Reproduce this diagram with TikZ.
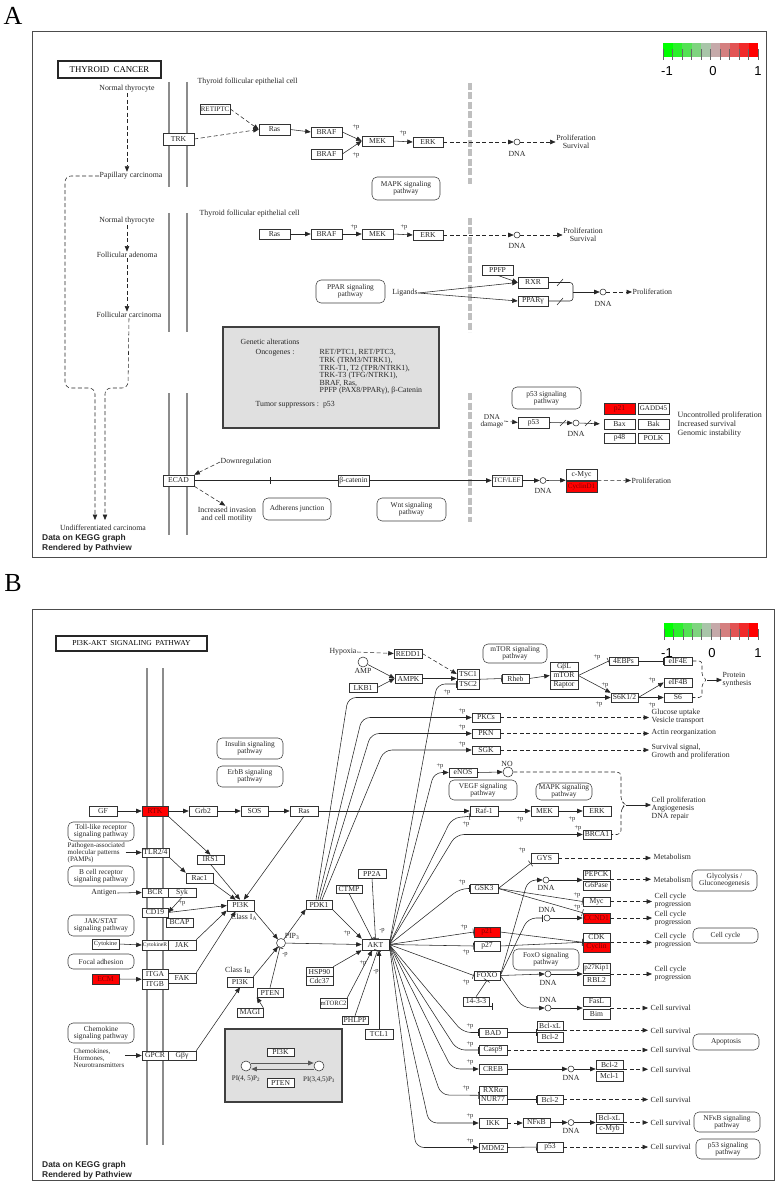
\documentclass[tikz,border=0pt]{standalone}
\usepackage{fontspec}
\setmainfont{Liberation Serif}
\setsansfont{Liberation Sans}
\usetikzlibrary{arrows.meta}
\definecolor{lg0}{RGB}{0,255,0}
\definecolor{lg1}{RGB}{42,241,42}
\definecolor{lg2}{RGB}{84,226,84}
\definecolor{lg3}{RGB}{127,212,127}
\definecolor{lg4}{RGB}{169,197,169}
\definecolor{lg5}{RGB}{197,169,169}
\definecolor{lg6}{RGB}{212,127,127}
\definecolor{lg7}{RGB}{226,84,84}
\definecolor{lg8}{RGB}{241,42,42}
\definecolor{lg9}{RGB}{255,0,0}
\definecolor{kred}{RGB}{255,0,0}
\definecolor{genfill}{RGB}{224,224,224}
\newcounter{lbl}
\newcommand\bx[7][]{\node[kbox,#1,minimum width={(#5-#3)*1pt},minimum height={(#6-#4)*1pt}] (#2) at ({(#3+#5)/2},{(#4+#6)/2}) {#7};}
\newcommand\pb[6]{\node[pbox,minimum width={(#4-#2)*1pt},minimum height={(#5-#3)*1pt}] (#1) at ({(#2+#4)/2},{(#3+#5)/2}) {#6};}
\newcommand\pl[3]{\stepcounter{lbl}\node[plab] (pl\arabic{lbl}) at (#1,#2) {#3};}
\begin{document}
\begin{tikzpicture}[x=1pt,y=-1pt,
  txt/.style={font=\fontsize{7.8}{8}\selectfont, text=black!85, inner sep=0.5pt, align=center},
  kbox/.style={draw=black!80, line width=0.55pt, fill=white, inner sep=0pt, font=\fontsize{7.6}{7.6}\selectfont, text=black!85},
  sm/.style={font=\fontsize{7}{7}\selectfont},
  redbox/.style={fill=kred, text=red!50!black},
  pbox/.style={draw=black!75, line width=0.55pt, rounded corners=5pt, fill=white, inner sep=0pt, align=center, font=\fontsize{7.4}{7.4}\selectfont, text=black!85},
  plab/.style={font=\fontsize{6.5}{6.5}\selectfont, text=black!85, inner sep=0pt},
  dnac/.style={circle, draw=black!80, line width=0.55pt, fill=white, inner sep=0pt, minimum size=6pt},
  con/.style={draw=black!85, line width=0.55pt},
  arr/.style={con, -{Triangle[length=5.5pt,width=4.5pt]}},
  inh/.style={con, -{Bar[width=7pt]}},
  dsh/.style={dash pattern=on 4pt off 2.5pt},
  memb/.style={draw=black!45, line width=2.7pt},
  gdash/.style={draw=black!25, line width=3.5pt, dash pattern=on 7pt off 2.5pt},
  frame/.style={draw=black!70, line width=0.8pt},
  legl/.style={font=\sffamily\fontsize{13}{13}\selectfont, inner sep=0pt},
  kegg/.style={font=\sffamily\bfseries\fontsize{8.4}{10}\selectfont, anchor=north west, align=left, inner sep=0pt, text=black!85},
]
\useasboundingbox (0,0) rectangle (776,1182);
% ================= PANEL A =================
\node[font=\fontsize{26}{26}\selectfont, inner sep=0] (labA) at (13,16) {A};
\draw[frame] (32,31) rectangle (766,557);
\foreach \c [count=\i from 0] in {lg0,lg1,lg2,lg3,lg4,lg5,lg6,lg7,lg8,lg9} \fill[\c] ({663+9.5*\i},43) rectangle ++(9.5,14);
\foreach \i in {0,...,10} \draw[black!60, line width=0.5pt] ({663+9.5*\i},49) -- ({663+9.5*\i},60);
\node[legl] (lA1) at (667,71) {-1};
\node[legl] (lA2) at (713,71) {0};
\node[legl] (lA3) at (758,71) {1};
\foreach \ya/\yb in {82/187,213/332,393/535}{\draw[memb] (169,\ya) -- (169,\yb); \draw[memb] (187,\ya) -- (187,\yb);}
\foreach \ya/\yb in {83/184,218/332,393/522}{\draw[gdash] (470,\ya) -- (470,\yb);}
\node[draw=black!85, line width=1.1pt, minimum width=103pt, minimum height=17pt, inner sep=0, font=\fontsize{8.8}{8.8}\selectfont] (ttlA) at (109.5,69.5) {THYROID\ \ CANCER};
% left column
\node[txt] (nt1) at (127,89) {Normal thyrocyte};
\node[txt] (pap) at (131,176) {Papillary carcinoma};
\draw[arr,dsh] (nt1.south) -- (nt1.south |- pap.north);
\node[txt] (nt2) at (127,221) {Normal thyrocyte};
\node[txt] (fad) at (127,255) {Follicular adenoma};
\node[txt] (fca) at (129,315) {Follicular carcinoma};
\draw[arr,dsh] (nt2.south) -- (nt2.south |- fad.north);
\draw[arr,dsh] (fad.south) -- (fad.south |- fca.north);
\node[txt] (und) at (103,528) {Undifferentiated carcinoma};
\draw[arr,dsh,rounded corners=6pt] (pap.west) -- (65,176) -- (65,388) -- (95,388) -- (95,520);
\draw[arr,dsh,rounded corners=6pt] (fca.south) -- (128,388) -- (105,388) -- (105,520);
\node[kegg] (dkA) at (42,534) {Data on KEGG graph\\Rendered by Pathview};
% top pathway
\node[txt, anchor=west] (tfe1) at (197,82) {Thyroid follicular epithelial cell};
\bx[sm]{retiptc}{200}{104}{230}{114}{RETIPTC}
\bx{trk}{163}{133}{194}{145}{TRK}
\bx{rasA1}{259}{124}{290}{135}{Ras}
\bx{brafA1}{311}{127}{342}{137}{BRAF}
\bx{brafA2}{311}{149}{342}{159}{BRAF}
\bx{mekA1}{362}{136}{393}{146}{MEK}
\bx{erkA1}{413}{137}{443}{147}{ERK}
\draw[arr,dsh] (retiptc.east) -- (rasA1.west);
\draw[arr,dsh] (trk.east) -- (rasA1.west);
\draw[arr] (rasA1.east) -- (brafA1.west);
\draw[arr] (brafA1.east) -- (mekA1.west);
\draw[arr] (brafA2.east) -- (mekA1.west);
\draw[arr] (mekA1.east) -- (erkA1.west);
\pl{356}{127}{+p}\pl{356}{155}{+p}\pl{403}{133}{+p}
\node[dnac] (dA1) at (517,142) {};
\node[txt] (dA1l) at (517,154) {DNA};
\draw[arr,dsh] (erkA1.east) -- (dA1.west);
\node[txt] (prA1) at (576,142) {Proliferation\\Survival};
\draw[arr,dsh] (dA1.east) -- (prA1.west);
\pb{mapkA}{372}{177}{440}{200}{MAPK signaling\\pathway}
% second pathway
\node[txt, anchor=west] (tfe2) at (199,214) {Thyroid follicular epithelial cell};
\bx{rasA2}{259}{229}{290}{239}{Ras}
\bx{brafA3}{311}{229}{342}{239}{BRAF}
\bx{mekA2}{362}{229}{393}{239}{MEK}
\bx{erkA2}{413}{230}{443}{240}{ERK}
\draw[arr] (rasA2.east) -- (brafA3.west);
\draw[arr] (brafA3.east) -- (mekA2.west);
\draw[arr] (mekA2.east) -- (erkA2.west);
\pl{354}{227}{+p}\pl{404}{227}{+p}
\node[dnac] (dA2) at (517,235) {};
\node[txt] (dA2l) at (517,246) {DNA};
\draw[arr,dsh] (erkA2.east) -- (dA2.west);
\node[txt] (prA2) at (583,235) {Proliferation\\Survival};
\draw[arr,dsh] (dA2.east) -- (prA2.west);
% PPAR
\bx{ppfp}{482}{265}{513}{275}{PPFP}
\bx{rxr}{518}{277}{548}{288}{RXR}
\bx{pparg}{518}{296}{548}{306}{PPARγ}
\pb{pparA}{316}{280}{385}{303}{PPAR signaling\\pathway}
\node[txt] (lig) at (405,293) {Ligands};
\draw[arr] (lig.east) -- (rxr.west);
\draw[arr] (lig.east) -- (pparg.west);
\draw[arr] (ppfp.south) -- (rxr.west);
\draw[con,rounded corners=3pt] (rxr.east) -- (573,282.5) -- (573,301) -- (pparg.east);
\draw[con] (557,286) -- (563,279);
\draw[con] (557,305) -- (563,298);
\coordinate (brA) at (573,292);
\node[dnac] (dA3) at (603,292) {};
\node[txt] (dA3l) at (603,304) {DNA};
\draw[arr] (brA) -- (dA3.west);
\node[txt, anchor=west] (prA3) at (632,292) {Proliferation};
\draw[arr,dsh] (dA3.east) -- (prA3.west);
% genetic alterations
\node[draw=black!75, line width=1.5pt, fill=genfill, minimum width=216pt, minimum height=101pt, inner sep=0] (genbox) at (331,377.5) {};
\node[txt, anchor=west] (ga1) at (240,342) {Genetic alterations};
\node[txt, anchor=west] (ga2) at (255,353) {Oncogenes :};
\node[txt, anchor=north west, align=left, font=\fontsize{7.8}{7.6}\selectfont] (ga3) at (319,349) {RET/PTC1, RET/PTC3,\\TRK (TRM3/NTRK1),\\TRK-T1, T2 (TPR/NTRK1),\\TRK-T3 (TFG/NTRK1),\\BRAF, Ras,\\PPFP (PAX8/PPARγ), β-Catenin};
\node[txt, anchor=west] (ga4) at (255,405) {Tumor suppressors :\ \ p53};
% p53
\pb{p53pA}{512}{387}{581}{409}{p53 signaling\\pathway}
\node[txt, font=\fontsize{7.4}{7}\selectfont] (dnad) at (492,421) {DNA\\damage};
\bx{p53A}{518}{417}{549}{428}{p53}
\draw[arr,dsh] (dnad.east) -- (p53A.west);
\node[dnac] (dA4) at (576,423) {};
\node[txt] (dA4l) at (576,434) {DNA};
\draw[arr] (p53A.east) -- (dA4.west);
\draw[con] (560,426) -- (566,420);
\bx[redbox]{p21A}{604}{403}{635}{414}{p21}
\bx[sm]{gadd}{638}{403}{669}{414}{GADD45}
\bx{bax}{604}{419}{635}{429}{Bax}
\bx{bak}{638}{419}{669}{429}{Bak}
\bx{p48}{604}{433}{635}{443}{p48}
\bx{polk}{638}{433}{669}{443}{POLK}
\draw[arr,shorten >=4pt] (dA4.east) -- (bax.west);
\draw[con] (585,426) -- (591,420);
\node[txt, anchor=west, align=left, font=\fontsize{8}{9}\selectfont] (unc) at (677,425) {Uncontrolled proliferation\\Increased survival\\Genomic instability};
% ECAD / Wnt
\bx{ecad}{163}{475}{194}{486}{ECAD}
\node[txt] (down) at (246,462) {Downregulation};
\draw[arr,dsh] (down.west) -- (ecad.north east);
\node[txt] (inv) at (227,515) {Increased invasion\\and cell motility};
\draw[arr,dsh,shorten >=2pt] (ecad.south east) -- (inv.north);
\bx{bcat}{338}{475}{369}{486}{β-catenin}
\bx[sm]{tcf}{492}{475}{522}{486}{TCF/LEF}
\draw[con] (ecad.east) -- (bcat.west);
\draw[con] (270,477) -- (270,484);
\draw[arr] (bcat.east) -- (tcf.west);
\node[dnac] (dA5) at (543,480.5) {};
\node[txt] (dA5l) at (543,491) {DNA};
\draw[arr] (tcf.east) -- (dA5.west);
\bx{cmyc}{566}{469}{597}{480}{c-Myc}
\bx[redbox,sm]{ccndA}{566}{481}{597}{492}{CyclinD1}
\draw[arr] (dA5.east) -- (cmyc.south west);
\node[txt, anchor=west] (prA4) at (631,480.5) {Proliferation};
\draw[arr,dsh] (cmyc.south east) -- (prA4.west);
\pb{adh}{263}{498}{331}{520}{Adherens junction}
\pb{wnt}{377}{498}{446}{521}{Wnt signaling\\pathway}
% ================= PANEL B =================
\node[font=\fontsize{26}{26}\selectfont, inner sep=0] (labB) at (13,583) {B};
\draw[frame] (32,609) rectangle (774,1180);
\foreach \c [count=\i from 0] in {lg0,lg1,lg2,lg3,lg4,lg5,lg6,lg7,lg8,lg9} \fill[\c] ({664+9.4*\i},623) rectangle ++(9.4,14);
\foreach \i in {0,...,10} \draw[black!60, line width=0.5pt] ({664+9.4*\i},629) -- ({664+9.4*\i},640);
\node[draw=black!85, line width=1.1pt, minimum width=151pt, minimum height=15pt, inner sep=0, font=\fontsize{7.6}{7.6}\selectfont] (ttlB) at (131.5,643.5) {PI3K-AKT\ \ SIGNALING\ \ PATHWAY};
\draw[memb] (147,668) -- (147,1145);
\draw[memb] (163,668) -- (163,1145);
\node[kegg] (dkB) at (42,1161) {Data on KEGG graph\\Rendered by Pathview};
% pathway boxes
\pb{insul}{217}{738}{283}{759}{Insulin signaling\\pathway}
\pb{erbb}{217}{766}{283}{787}{ErbB signaling\\pathway}
\pb{toll}{68}{822}{134}{841}{Toll-like receptor\\signaling pathway}
\pb{bcell}{68}{866}{134}{886}{B cell receptor\\signaling pathway}
\pb{jakst}{68}{915}{134}{936}{JAK/STAT\\signaling pathway}
\pb{focal}{68}{954}{134}{969}{Focal adhesion}
\pb{chemk}{68}{1023}{134}{1043}{Chemokine\\signaling pathway}
\pb{mtorp}{483}{644}{547}{663}{mTOR signaling\\pathway}
\pb{vegf}{449}{780}{517}{800}{VEGF signaling\\pathway}
\pb{mapkB}{536}{783}{592}{800}{MAPK signaling\\pathway}
\pb{foxop}{513}{949}{579}{970}{FoxO signaling\\pathway}
\pb{glyco}{692}{870}{757}{891}{Glycolysis /\\Gluconeogenesis}
\pb{ccyc}{693}{928}{758}{943}{Cell cycle}
\pb{apop}{693}{1034}{759}{1050}{Apoptosis}
\pb{nfkbp}{694}{1112}{760}{1132}{NFκB signaling\\pathway}
\pb{p53p}{696}{1139}{760}{1159}{p53 signaling\\pathway}
% receptor column
\bx{gf}{89}{806}{117}{816}{GF}
\bx[redbox]{rtk}{142}{806}{168}{816}{RTK}
\bx{grb2}{189}{806}{217}{816}{Grb2}
\bx{sos}{241}{806}{268}{816}{SOS}
\bx{rasB}{290}{806}{318}{816}{Ras}
\bx{raf1}{470}{806}{498}{816}{Raf-1}
\bx{mekB}{531}{806}{558}{816}{MEK}
\bx{erkB}{583}{806}{611}{816}{ERK}
\bx{tlr}{142}{848}{169}{857}{TLR2/4}
\bx{irs1}{197}{855}{224}{864}{IRS1}
\bx{rac1}{186}{873}{213}{883}{Rac1}
\bx{bcr}{142}{888}{168}{897}{BCR}
\bx{syk}{168}{888}{196}{897}{Syk}
\bx{cd19}{142}{908}{168}{917}{CD19}
\bx{bcap}{166}{918}{193}{927}{BCAP}
\bx[font=\fontsize{6.3}{6}\selectfont]{cytok}{92}{939}{119}{949}{Cytokine}
\bx[font=\fontsize{5.6}{6}\selectfont]{cytr}{142}{940}{168}{950}{CytokineR}
\bx{jak}{168}{940}{196}{950}{JAK}
\bx[redbox]{ecm}{92}{974}{119}{984}{ECM}
\bx{itga}{142}{969}{168}{979}{ITGA}
\bx{itgb}{142}{979}{168}{989}{ITGB}
\bx{fak}{168}{973}{196}{983}{FAK}
\bx{gpcr}{142}{1051}{168}{1060}{GPCR}
\bx{gby}{168}{1051}{196}{1060}{Gβγ}
\node[txt, anchor=west, align=left, font=\fontsize{7}{7}\selectfont] (pamps) at (67,853) {Pathogen-associated\\molecular patterns\\(PAMPs)};
\node[txt] (antig) at (104,893) {Antigen};
\node[txt, anchor=west, align=left, font=\fontsize{7}{7}\selectfont] (chemo) at (73,1058) {Chemokines,\\Hormones,\\Neurotransmitters};
\draw[arr] (gf.east) -- (rtk.west);
\draw[arr] (rtk.east) -- (grb2.west);
\draw[arr] (grb2.east) -- (sos.west);
\draw[arr] (sos.east) -- (rasB.west);
\draw[arr] (rasB.east) -- (raf1.west);
\draw[arr] (raf1.east) -- (mekB.west);
\draw[arr] (mekB.east) -- (erkB.west);
\pl{520}{819}{+p}\pl{572}{819}{+p}
\draw[arr] (pamps.east |- tlr.west) -- (tlr.west);
\draw[arr] (antig.east) -- (bcr.west);
\draw[arr] (cytok.east) -- (cytr.west);
\draw[arr] (ecm.east) -- (itga.south west);
\draw[arr] (chemo.east |- gpcr.west) -- (gpcr.west);
% PI3K
\bx{pi3ka}{227}{900}{254}{911}{PI3K}
\node[txt] (clA) at (244,917) {Class I\textsubscript{A}};
\bx{pi3kb}{227}{977}{253}{987}{PI3K}
\node[txt] (clB) at (238,970) {Class I\textsubscript{B}};
\bx{pten}{257}{988}{283}{997}{PTEN}
\bx{magi}{237}{1008}{263}{1017}{MAGI}
\node[dnac, minimum size=9pt] (pip3) at (281,943) {};
\node[txt] (pip3l) at (292,936) {PIP\textsubscript{3}};
\draw[arr] (rtk.south east) -- (irs1.north);
\draw[arr] (irs1.south) -- (pi3ka.95);
\draw[arr] (rasB.south) -- (pi3ka.60);
\draw[arr] (tlr.south east) -- (rac1.north west);
\draw[arr] (rac1.south east) -- (pi3ka.130);
\draw[arr] (syk.south) -- (cd19.east);
\pl{182}{903}{+p}
\draw[arr] (cd19.east) -- (pi3ka.west);
\draw[arr] (jak.north east) -- (pi3ka.200);
\draw[arr] (fak.north east) -- (pi3ka.230);
\draw[arr] (gby.north east) -- (pi3kb.south);
\draw[arr] (pi3ka.south east) -- (pip3);
\draw[arr] (pi3kb.north east) -- (pip3);
\draw[inh] (pten.north) -- (pip3);
\pl{285}{955}{-p}
\draw[arr] (magi.north east) -- (pten.south west);
% PIP gray box
\node[draw=black!75, line width=1.5pt, fill=genfill, minimum width=117pt, minimum height=73pt, inner sep=0] (pipbox) at (283.5,1065.5) {};
\bx{pi3kin}{267}{1048}{294}{1056}{PI3K}
\bx{ptenin}{267}{1078}{294}{1087}{PTEN}
\node[dnac, minimum size=10pt] (pi45) at (246,1066) {};
\node[dnac, minimum size=10pt] (pi345) at (319,1066) {};
\node[txt, font=\fontsize{7}{7}\selectfont] (pi45l) at (246,1079) {PI(4, 5)P\textsubscript{2}};
\node[txt, font=\fontsize{7}{7}\selectfont] (pi345l) at (319,1080) {PI(3,4,5)P\textsubscript{3}};
\draw[arr, draw=black!65, line width=0.9pt] ([yshift=3pt]pi45.east) -- ([yshift=3pt]pi345.west);
\draw[arr, draw=black!65, line width=0.9pt] ([yshift=-3pt]pi345.west) -- ([yshift=-3pt]pi45.east);
% AKT
\bx{pdk1}{306}{900}{332}{909}{PDK1}
\bx{ctmp}{336}{885}{362}{893}{CTMP}
\bx{pp2a}{358}{869}{386}{878}{PP2A}
\bx{akt}{362}{939}{389}{950}{AKT}
\bx{hsp90}{306}{967}{333}{976}{HSP90}
\bx{cdc37}{306}{976}{333}{985}{Cdc37}
\bx[font=\fontsize{6.6}{6.6}\selectfont]{mtorc2}{320}{998}{347}{1008}{mTORC2}
\bx{phlpp}{342}{1016}{368}{1024}{PHLPP}
\bx{tcl1}{365}{1029}{393}{1039}{TCL1}
\draw[arr] (pip3) -- (pdk1.south west);
\draw[arr] (pip3) -- (akt.west);
\draw[arr] (pdk1.south east) -- (akt.north west);
\pl{347}{933}{+p}
\draw[inh] (ctmp.south) -- (akt.120);
\draw[inh] (pp2a.south) -- (akt.north);
\pl{382}{931}{-p}
\draw[arr] (hsp90.north east) -- (akt.south west);
\draw[arr] (mtorc2.north east) -- (akt.240);
\pl{363}{963}{+p}
\draw[inh] (phlpp.north) -- (akt.290);
\pl{376}{972}{-p}
\draw[arr] (tcl1.north) -- (tcl1.north |- akt.south);
% top part
\node[txt] (hyp) at (343,652) {Hypoxia};
\bx{redd1}{394}{649}{422}{658}{REDD1}
\node[dnac, minimum size=10pt] (amp) at (363,662) {};
\node[txt] (ampl) at (363,671) {AMP};
\bx{ampk}{395}{674}{422}{683}{AMPK}
\bx{lkb1}{349}{683}{377}{692}{LKB1}
\bx{tsc1}{457}{669}{479}{679}{TSC1}
\bx{tsc2}{457}{679}{479}{689}{TSC2}
\bx{rheb}{502}{674}{529}{683}{Rheb}
\bx{gbl}{550}{662}{578}{671}{GβL}
\bx{mtor}{550}{671}{578}{680}{mTOR}
\bx{raptor}{550}{680}{578}{689}{Raptor}
\bx{ebp}{609}{657}{638}{665}{4EBPs}
\bx{eif4e}{664}{657}{692}{665}{eIF4E}
\bx{s6k}{611}{693}{638}{702}{S6K1/2}
\bx{eif4b}{664}{678}{692}{687}{eIF4B}
\bx{s6}{664}{693}{692}{702}{S6}
\draw[arr,dsh] (hyp.east) -- (redd1.west);
\draw[arr,dsh] (redd1.east) -- (tsc1.west);
\draw[arr] (amp) -- (ampk.west);
\draw[arr] (lkb1.east) -- (ampk.west);
\draw[arr] (ampk.east) -- (ampk.east -| tsc1.west);
\draw[inh] (tsc1.south east) -- (rheb.west);
\draw[arr] (rheb.east) -- (mtor.west);
\draw[inh] (mtor.east) -- (ebp.west);
\pl{597}{657}{+p}
\draw[arr] (mtor.east) -- (s6k.north west);
\pl{605}{685}{+p}
\draw[inh] (ebp.east) -- (eif4e.west);
\draw[arr] (s6k.east) -- (eif4b.west);
\pl{652}{680}{+p}
\draw[arr] (s6k.east) -- (s6.west);
\pl{652}{705}{+p}
\draw[con,dsh,rounded corners=3pt] (eif4e.east) -- (702,661) -- (702,676) -- (707,680) -- (702,684) -- (702,697.5) -- (s6.east);
\coordinate (psb) at (707,680);
\node[txt, anchor=west, align=left] (prot) at (722,680) {Protein\\synthesis};
\draw[arr] (psb) -- (prot.west);
\bx{pkc}{472}{713}{500}{722}{PKCs}
\bx{pkn}{472}{729}{500}{738}{PKN}
\bx{sgk}{472}{746}{500}{754}{SGK}
\bx{enos}{449}{768}{477}{777}{eNOS}
\node[dnac, minimum size=10pt] (no) at (508,772) {};
\node[txt] (nol) at (507,764) {NO};
\bx{brca1}{583}{830}{611}{839}{BRCA1}
% PDK1 fan
\draw[arr,rounded corners=8pt] ([xshift=-3pt]pdk1.north) -- (348,697.5) -- (s6k.west);
\pl{599}{704}{+p}
\draw[arr,rounded corners=8pt] ([xshift=-1pt]pdk1.north) -- (362,717.5) -- (pkc.west);
\draw[arr,rounded corners=8pt] ([xshift=1pt]pdk1.north) -- (371,733.5) -- (pkn.west);
\draw[arr,rounded corners=8pt] ([xshift=3pt]pdk1.north) -- (384,750) -- (sgk.west);
\pl{462}{711}{+p}\pl{462}{727}{+p}\pl{462}{744}{+p}
% AKT fan up
\draw[inh,rounded corners=8pt] (akt.east) -- (437,684) -- (tsc2.west);
\pl{447}{692}{+p}
\draw[arr,rounded corners=8pt] (akt.east) -- (434,772.5) -- (enos.west);
\pl{440}{766}{+p}
\draw[inh,rounded corners=8pt] (akt.east) -- (452,818) -- (raf1.south west);
\pl{466}{824}{+p}
\draw[arr,rounded corners=8pt] (akt.east) -- (456,834.5) -- (brca1.west);
\pl{578}{828}{+p}
\bx{gsk3}{470}{884}{498}{893}{GSK3}
\bx[redbox]{p21B}{474}{927}{500}{937}{p21}
\bx{p27}{474}{941}{500}{951}{p27}
\bx{foxo}{474}{971}{500}{980}{FOXO}
\bx{b1433}{463}{997}{489}{1006}{14-3-3}
\draw[inh,rounded corners=8pt] (akt.east) -- (460,888.5) -- (gsk3.west);
\pl{462}{882}{+p}
\draw[inh] (akt.east) -- (p21B.west);
\pl{464}{927}{+p}
\draw[inh] (akt.east) -- (p27.west);
\pl{466}{952}{+p}
\draw[inh] (akt.east) -- (foxo.west);
\pl{466}{982}{+p}
\draw[inh] (b1433.north) -- (foxo.south);
% AKT fan down
\bx{bad}{479}{1028}{507}{1037}{BAD}
\bx{casp9}{479}{1045}{507}{1055}{Casp9}
\bx{creb}{479}{1064}{507}{1074}{CREB}
\bx{rxra}{479}{1086}{507}{1095}{RXRα}
\bx{nur77}{479}{1095}{507}{1104}{NUR77}
\bx{ikk}{479}{1118}{507}{1128}{IKK}
\bx{mdm2}{479}{1143}{507}{1152}{MDM2}
\draw[inh] (b1433.south) -- (b1433.south -| bad.north);
\draw[inh,rounded corners=8pt] (akt.east) -- (463,1032.5) -- (bad.west);
\draw[inh,rounded corners=8pt] (akt.east) -- (457,1050) -- (casp9.west);
\draw[arr,rounded corners=8pt] (akt.east) -- (452,1069) -- (creb.west);
\draw[inh,rounded corners=8pt] (akt.east) -- (441,1095) -- (rxra.south west);
\draw[arr,rounded corners=8pt] (akt.east) -- (429,1123) -- (ikk.west);
\draw[arr,rounded corners=8pt] (akt.east) -- (416,1147.5) -- (mdm2.west);
\pl{470}{1026}{+p}\pl{470}{1044}{+p}\pl{470}{1062}{+p}\pl{466}{1088}{+p}\pl{470}{1116}{+p}\pl{470}{1141}{+p}
% right column
\node[txt, anchor=west, align=left] (glu) at (651,717) {Glucose uptake\\Vesicle transport};
\node[txt, anchor=west] (act) at (651,733) {Actin reorganization};
\node[txt, anchor=west, align=left] (surv) at (651,752) {Survival signal,\\Growth and proliferation};
\draw[arr,dsh,shorten >=2pt] (pkc.east) -- (pkc.east -| glu.west);
\draw[arr,dsh,shorten >=2pt] (pkn.east) -- (pkn.east -| act.west);
\draw[arr,dsh,shorten >=2pt] (sgk.east) -- (sgk.east -| surv.west);
\draw[arr] (enos.east) -- (no.west);
\node[txt, anchor=west, align=left] (cprol) at (651,809) {Cell proliferation\\Angiogenesis\\DNA repair};
\draw[con,dsh,rounded corners=4pt] (no.east) -- (621,772) -- (621,801) -- (626,805) -- (621,809) -- (621,834.5) -- (brca1.east);
\coordinate (cpb) at (626,805);
\draw[arr] (cpb) -- (cpb -| cprol.west);
\bx{gys}{531}{853}{558}{863}{GYS}
\draw[inh] (gsk3.east) -- (gys.south west);
\pl{522}{850}{+p}
\node[txt, anchor=west] (met1) at (653,857) {Metabolism};
\draw[arr,dsh,shorten >=2pt] (gys.east) -- (gys.east -| met1.west);
\bx{pepck}{583}{870}{610}{879}{PEPCK}
\bx{g6p}{583}{881}{610}{890}{G6Pase}
\node[dnac] (dP) at (546,880) {};
\node[txt] (dPl) at (546,888) {DNA};
\draw[arr] (dP.east) -- (dP.east -| pepck.west);
\node[txt, anchor=west] (met2) at (653,880) {Metabolism};
\draw[arr,dsh,shorten >=2pt] (pepck.south east) -- (pepck.south east -| met2.west);
\draw[arr,rounded corners=8pt] (foxo.east) -- (528,880) -- (dP.west);
\bx{myc}{583}{897}{610}{906}{Myc}
\bx[redbox]{ccnd1}{583}{913}{610}{923}{CCND1}
\draw[inh] (gsk3.east) -- (myc.west);
\draw[inh] (gsk3.east) -- (ccnd1.north west);
\pl{577}{895}{+p}\pl{577}{907}{+p}
\node[dnac] (dC) at (547,918) {};
\node[txt] (dCl) at (547,910) {DNA};
\draw[inh,rounded corners=8pt,shorten >=1pt] (foxo.east) -- (528,918) -- (dC.west);
\draw[arr] (dC.east) -- (dC.east -| ccnd1.west);
\node[txt, anchor=west, align=left] (cc1) at (654,901) {Cell cycle\\progression};
\node[txt, anchor=west, align=left] (cc2) at (654,919) {Cell cycle\\progression};
\draw[arr,dsh,shorten >=2pt] (myc.east) -- (myc.east -| cc1.west);
\draw[arr,dsh,shorten >=2pt] (ccnd1.east) -- (ccnd1.east -| cc2.west);
\bx{cdk}{583}{933}{610}{942}{CDK}
\bx[redbox]{cyclin}{583}{942}{610}{952}{Cyclin}
\draw[inh] (p21B.east) -- (cdk.south west);
\draw[inh] (p27.east) -- (cdk.south west);
\node[txt, anchor=west, align=left] (cc3) at (654,941) {Cell cycle\\progression};
\draw[arr,dsh,shorten >=2pt] (cdk.south east) -- (cdk.south east -| cc3.west);
\bx[sm]{p27k}{583}{963}{610}{973}{p27Kip1}
\bx{rbl2}{583}{975}{610}{985}{RBL2}
\node[dnac] (dK) at (548,974) {};
\node[txt] (dKl) at (548,983) {DNA};
\draw[arr] (foxo.east) -- (dK.west);
\draw[arr] (dK.east) -- (dK.east -| p27k.west);
\node[txt, anchor=west, align=left] (cc4) at (654,974) {Cell cycle\\progression};
\draw[arr,dsh,shorten >=2pt] (dK.east -| p27k.east) -- (dK.east -| cc4.west);
\bx{fasl}{583}{997}{610}{1006}{FasL}
\bx{bim}{583}{1009}{610}{1019}{Bim}
\node[dnac] (dF) at (548,1008) {};
\node[txt] (dFl) at (548,1000) {DNA};
\draw[arr,rounded corners=8pt] (foxo.east) -- (523,1008) -- (dF.west);
\draw[arr] (dF.east) -- (dF.east -| fasl.west);
\node[txt, anchor=west] (cs1) at (650,1008) {Cell survival};
\draw[arr,dsh,shorten >=2pt] (dF.east -| fasl.east) -- (dF.east -| cs1.west);
\bx{bclxl1}{537}{1021}{563}{1030}{Bcl-xL}
\bx{bcl2a}{537}{1032}{563}{1042}{Bcl-2}
\draw[inh] (bad.east) -- (bad.east -| bclxl1.west);
\node[txt, anchor=west] (cs2) at (650,1031) {Cell survival};
\draw[arr,dsh,shorten >=2pt] (bclxl1.south east) -- (bclxl1.south east -| cs2.west);
\node[txt, anchor=west] (cs3) at (650,1050) {Cell survival};
\draw[arr,dsh,shorten >=2pt] (casp9.east) -- (casp9.east -| cs3.west);
\node[dnac] (dB) at (571,1069) {};
\node[txt] (dBl) at (571,1078) {DNA};
\bx{bcl2b}{596}{1060}{623}{1069}{Bcl-2}
\bx{mcl1}{596}{1071}{623}{1081}{Mcl-1}
\draw[arr] (creb.east) -- (dB.west);
\draw[arr] (dB.east) -- (dB.east -| bcl2b.west);
\node[txt, anchor=west] (cs4) at (650,1070) {Cell survival};
\draw[arr,dsh,shorten >=2pt] (bcl2b.south east) -- (bcl2b.south east -| cs4.west);
\bx{bcl2c}{537}{1095}{563}{1104}{Bcl-2}
\draw[inh] (nur77.east) -- (bcl2c.west);
\node[txt, anchor=west] (cs5) at (650,1099.5) {Cell survival};
\draw[arr,dsh,shorten >=2pt] (bcl2c.east) -- (cs5.west);
\bx{nfkb}{523}{1118}{550}{1127}{NFκB}
\node[dnac] (dN) at (571,1122.5) {};
\node[txt] (dNl) at (571,1131) {DNA};
\bx{bclxl2}{596}{1113}{623}{1122}{Bcl-xL}
\bx{cmyb}{596}{1124}{623}{1133}{c-Myb}
\draw[arr,dsh] (ikk.east) -- (ikk.east -| nfkb.west);
\draw[arr] (nfkb.east) -- (dN.west);
\draw[arr] (dN.east) -- (dN.east -| bclxl2.west);
\node[txt, anchor=west] (cs6) at (650,1123) {Cell survival};
\draw[arr,dsh,shorten >=2pt] (dN.east -| bclxl2.east) -- (dN.east -| cs6.west);
\bx{p53B}{537}{1142}{563}{1152}{p53}
\draw[inh] (mdm2.east) -- (p53B.west);
\node[txt, anchor=west] (cs7) at (650,1147) {Cell survival};
\draw[arr,dsh,shorten >=2pt] (p53B.east) -- (cs7.west);
\node[legl] (lB1) at (667,653) {-1};
\node[legl] (lB2) at (712,653) {0};
\node[legl] (lB3) at (758,653) {1};
\end{tikzpicture}
\end{document}
